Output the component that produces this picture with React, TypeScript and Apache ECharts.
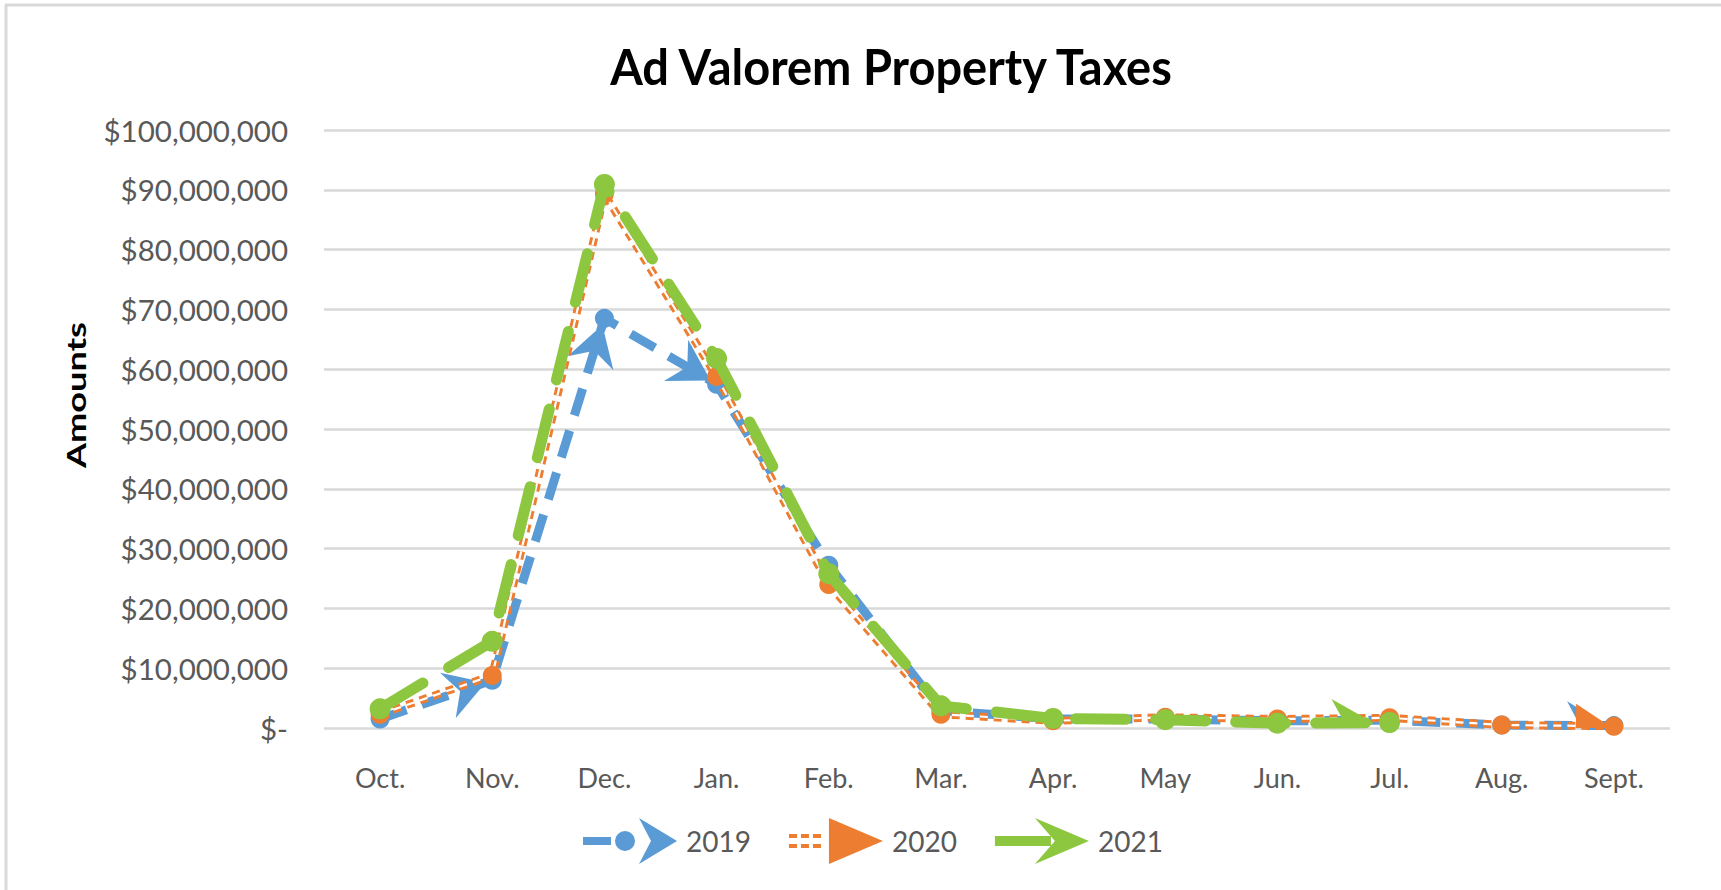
import React, { useEffect, useRef } from "react";
import * as echarts from "echarts";

const months = ["Oct.", "Nov.", "Dec.", "Jan.", "Feb.", "Mar.", "Apr.", "May", "Jun.", "Jul.", "Aug.", "Sept."];
const years = ["2019", "2020", "2021"];
const taxes2019 = [1500000, 8000000, 68500000, 57500000, 27200000, 2900000, 1500000, 1500000, 1200000, 1300000, 500000, 400000];
const taxes2020 = [2300000, 8800000, 89300000, 58800000, 24000000, 2300000, 1200000, 1800000, 1500000, 1700000, 500000, 300000];
const taxes2021 = [3200000, 14500000, 90900000, 61800000, 25800000, 3700000, 1600000, 1400000, 800000, 900000, null, null];
// indices of the points where an arrow head is visible at the end of the incoming segment
const arrowEnds2019 = [1, 2, 3, 11];
const arrowEnds2020 = [11];
const arrowEnds2021 = [9];

const FONT = "Lato, 'Open Sans', sans-serif";
const BLUE = "#5B9BD5";
const ORANGE = "#ED7D31";
const GREEN = "#8DC63F";

const iconBlue =
  "path://M0 19 H28 V27 H0 Z M32 23 A10 10 0 1 1 52 23 A10 10 0 1 1 32 23 Z M56 0 L94 23 L56 46 L68 23 Z";
const iconOrange =
  "path://M0 16 H8 V20 H0 Z M0 26 H8 V30 H0 Z M12 16 H20 V20 H12 Z M12 26 H20 V30 H12 Z M24 16 H32 V20 H24 Z M24 26 H32 V30 H24 Z M40 0 L94 23 L40 46 Z";
const iconGreen = "path://M0 18 H56 V28 H0 Z M40 0 L94 23 L40 46 L60 23 Z";

function arrowSeries(name: string, values: (number | null)[], ends: number[], color: string, kind: "stealth" | "triangle", L: number, W: number, offset: number, z: number) {
  const data = ends.map((i) => [i, values[i - 1], values[i]]);
  return {
    type: "custom",
    name: name + "-arrows",
    data,
    z,
    silent: true,
    encode: { x: 0, y: 2 },
    renderItem: (params: any, api: any) => {
      const i = api.value(0);
      const p0 = api.coord([i - 1, api.value(1)]);
      const p1 = api.coord([i, api.value(2)]);
      let dx = p1[0] - p0[0];
      let dy = p1[1] - p0[1];
      const len = Math.sqrt(dx * dx + dy * dy) || 1;
      dx /= len;
      dy /= len;
      const nx = -dy;
      const ny = dx;
      const tx = p1[0] - dx * offset;
      const ty = p1[1] - dy * offset;
      const bx = tx - dx * L;
      const by = ty - dy * L;
      const pts: number[][] = [
        [tx, ty],
        [bx + nx * W, by + ny * W],
      ];
      if (kind === "stealth") {
        pts.push([tx - dx * (L - 13), ty - dy * (L - 13)]);
      }
      pts.push([bx - nx * W, by - ny * W]);
      const cs = params.coordSys;
      return {
        type: "group",
        children: [
          {
            type: "polygon",
            shape: { points: pts },
            style: { fill: color },
          },
        ],
        clipPath: {
          type: "rect",
          shape: { x: cs.x, y: cs.y - 40, width: cs.width, height: cs.height + 40 },
        },
      };
    },
  };
}

export default function App() {
  const ref = useRef<HTMLDivElement>(null);
  useEffect(() => {
    if (!ref.current) return;
    const chart = echarts.init(ref.current, undefined, { renderer: "svg" });
    const option: any = {
      animation: false,
      backgroundColor: "#ffffff",
      textStyle: { fontFamily: FONT },
      grid: { left: 324, right: 51, top: 130, bottom: 162, outerBoundsMode: "none" },
      legend: {
        data: [
          { name: years[0], icon: iconBlue, itemStyle: { color: BLUE } },
          { name: years[1], icon: iconOrange, itemStyle: { color: ORANGE } },
          { name: years[2], icon: iconGreen, itemStyle: { color: GREEN } },
        ],
        left: 578,
        top: 813,
        itemWidth: 94,
        itemHeight: 46,
        itemGap: 38,
        selectedMode: false,
        textStyle: { fontFamily: FONT, fontSize: 28, color: "#595959", padding: [0, 0, 0, 4] },
      },
      xAxis: {
        type: "category",
        data: months,
        boundaryGap: true,
        axisLine: { show: false },
        axisTick: { show: false },
        axisLabel: { fontFamily: FONT, fontSize: 27, color: "#595959", margin: 36 },
      },
      yAxis: {
        type: "value",
        min: 0,
        max: 100000000,
        interval: 10000000,
        axisLine: { show: false },
        axisTick: { show: false },
        splitLine: { lineStyle: { color: "#D9D9D9", width: 2.5 } },
        axisLabel: {
          fontFamily: FONT,
          fontSize: 29.5,
          color: "#595959",
          margin: 36,
          formatter: (v: number) => (v === 0 ? "$-" : "$" + v.toLocaleString("en-US")),
        },
      },
      graphic: [
        { type: "line", shape: { x1: 5, y1: 5, x2: 1721, y2: 5 }, style: { stroke: "#D9D9D9", lineWidth: 3 } },
        { type: "line", shape: { x1: 6, y1: 5, x2: 6, y2: 890 }, style: { stroke: "#D9D9D9", lineWidth: 3 } },
        {
          type: "text",
          x: 891,
          y: 66,
          scaleY: 1.05,
          style: {
            text: "Ad Valorem Property Taxes",
            fontFamily: FONT,
            fontSize: 47,
            fontWeight: "bold",
            fill: "#000000",
            align: "center",
            verticalAlign: "middle",
          },
        },
        {
          type: "text",
          x: 75,
          y: 395,
          rotation: Math.PI / 2,
          scaleX: 1.34,
          style: {
            text: "Amounts",
            fontFamily: FONT,
            fontSize: 27,
            fontWeight: "bold",
            fill: "#000000",
            align: "center",
            verticalAlign: "middle",
          },
        },
      ],
      series: [
        {
          name: years[0],
          type: "line",
          data: taxes2019,
          z: 2,
          color: BLUE,
          symbol: "circle",
          symbolSize: 19,
          itemStyle: { color: BLUE },
          lineStyle: { color: BLUE, width: 9, type: [28, 16] },
        },
        arrowSeries(years[0], taxes2019, arrowEnds2019, BLUE, "stealth", 40, 24, 7, 3),
        {
          name: years[1],
          type: "line",
          data: taxes2020,
          z: 4,
          color: ORANGE,
          symbol: "none",
          lineStyle: { color: ORANGE, width: 8, type: [8, 6] },
        },
        {
          name: years[1] + "-core",
          type: "line",
          data: taxes2020,
          z: 5,
          symbol: "none",
          silent: true,
          lineStyle: { color: "#ffffff", width: 2.2, type: [8, 6] },
        },
        arrowSeries(years[1], taxes2020, arrowEnds2020, ORANGE, "triangle", 34, 22, 4, 6),
        {
          name: years[1] + "-marks",
          type: "line",
          data: taxes2020,
          z: 7,
          symbol: "circle",
          symbolSize: 19,
          itemStyle: { color: ORANGE },
          lineStyle: { width: 0, opacity: 0 },
        },
        {
          name: years[2],
          type: "line",
          data: taxes2021,
          z: 8,
          color: GREEN,
          symbol: "circle",
          symbolSize: 21,
          itemStyle: { color: GREEN },
          lineStyle: { color: GREEN, width: 11, type: [50, 30], cap: "round" },
        },
        arrowSeries(years[2], taxes2021, arrowEnds2021, GREEN, "stealth", 42, 24, 16, 9),
      ],
    };
    chart.setOption(option);
    return () => chart.dispose();
  }, []);
  return (
    <div
      ref={ref}
      style={{ position: "absolute", left: 0, top: 0, width: 1721, height: 890, background: "#fff" }}
    />
  );
}
